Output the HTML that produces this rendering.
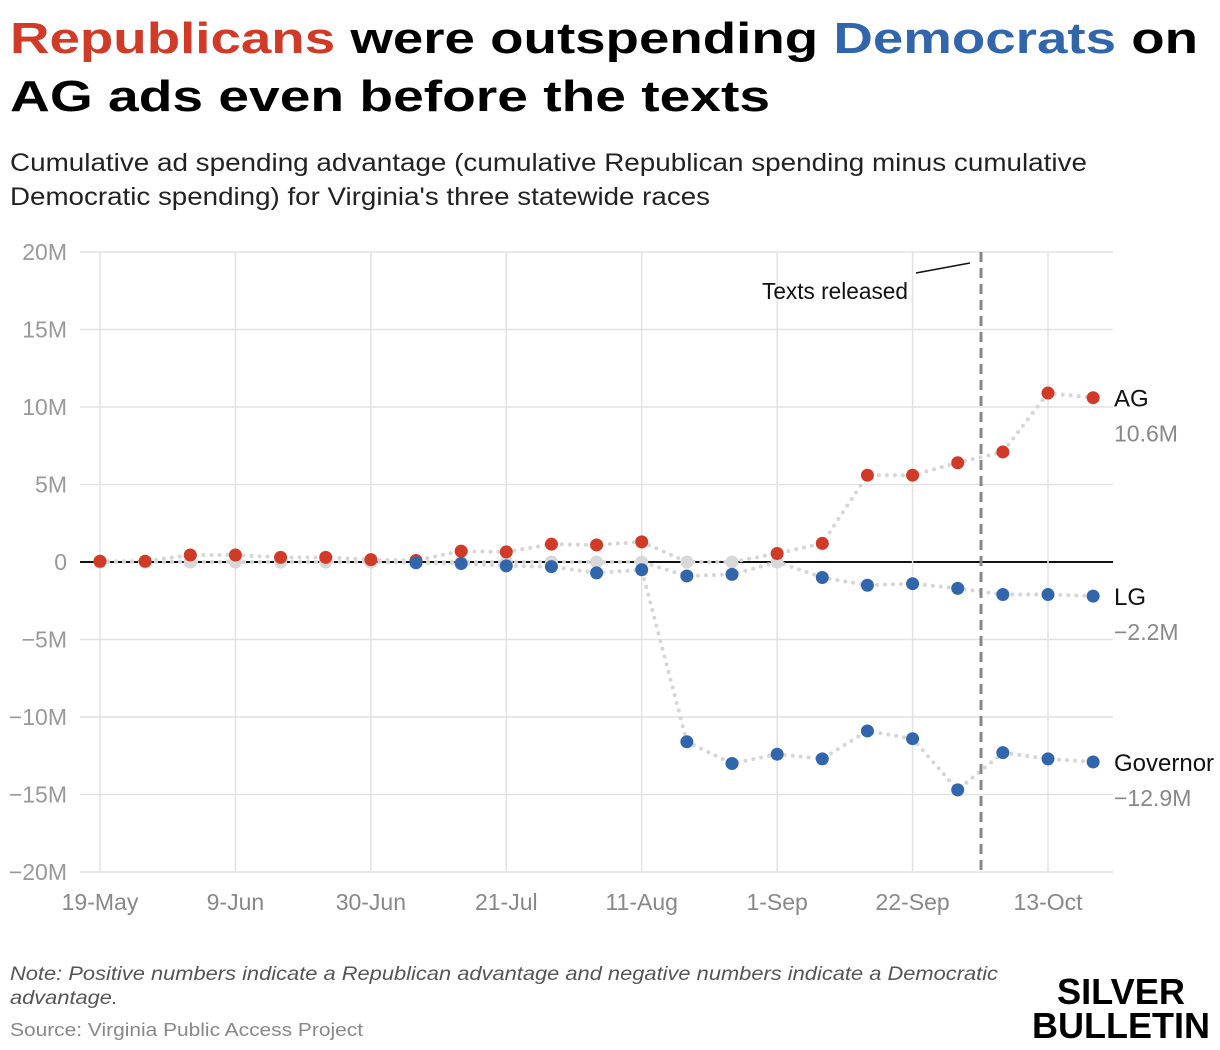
<!DOCTYPE html>
<html><head><meta charset="utf-8">
<style>
body{margin:0;background:#fff;width:1220px;height:1050px;overflow:hidden}
svg{display:block}
.t{font-family:"Liberation Sans",Arial,sans-serif}
.n{font-family:"Liberation Sans Narrow","Liberation Sans",sans-serif}
</style></head><body>
<svg id="c" width="1220" height="1050" xmlns="http://www.w3.org/2000/svg">
<text class="t" x="10" y="53" font-size="44" font-weight="900" textLength="1188" lengthAdjust="spacingAndGlyphs"><tspan fill="#d03a27">Republicans</tspan> were outspending <tspan fill="#3166ad">Democrats</tspan> on</text>
<text class="t" x="10" y="111" font-size="44" font-weight="900" textLength="760" lengthAdjust="spacingAndGlyphs">AG ads even before the texts</text>
<text class="t" x="10" y="171" font-size="25" fill="#222" textLength="1077" lengthAdjust="spacingAndGlyphs">Cumulative ad spending advantage (cumulative Republican spending minus cumulative</text>
<text class="t" x="10" y="205" font-size="25" fill="#222" textLength="700" lengthAdjust="spacingAndGlyphs">Democratic spending) for Virginia's three statewide races</text>
<g id="grid"></g>
<g id="marks"></g>
<g>
<line x1="981" y1="252" x2="981" y2="872" stroke="#888" stroke-width="3" stroke-dasharray="10,6"/>
<line x1="916" y1="273" x2="970" y2="263" stroke="#111" stroke-width="1.5"/>
<text class="n" x="908" y="299" font-size="23" text-anchor="end" fill="#111" textLength="146" lengthAdjust="spacingAndGlyphs">Texts released</text>
</g>
<text class="t" x="10" y="980" font-size="19" font-style="italic" fill="#555" textLength="988" lengthAdjust="spacingAndGlyphs">Note: Positive numbers indicate a Republican advantage and negative numbers indicate a Democratic</text>
<text class="t" x="10" y="1004" font-size="19" font-style="italic" fill="#555" textLength="108" lengthAdjust="spacingAndGlyphs">advantage.</text>
<text class="t" x="10" y="1036" font-size="18" fill="#888" textLength="353" lengthAdjust="spacingAndGlyphs">Source: Virginia Public Access Project</text>
<text class="t" x="1121" y="1004" font-size="36" font-weight="900" text-anchor="middle" textLength="128" lengthAdjust="spacingAndGlyphs">SILVER</text>
<text class="t" x="1121" y="1038" font-size="36" font-weight="900" text-anchor="middle" textLength="178" lengthAdjust="spacingAndGlyphs">BULLETIN</text>
</svg>
<script>
const weeks = ["19-May","26-May","2-Jun","9-Jun","16-Jun","23-Jun","30-Jun","7-Jul","14-Jul","21-Jul","28-Jul","4-Aug","11-Aug","18-Aug","25-Aug","1-Sep","8-Sep","15-Sep","22-Sep","29-Sep","6-Oct","13-Oct","20-Oct"];
const xTickLabels = ["19-May","9-Jun","30-Jun","21-Jul","11-Aug","1-Sep","22-Sep","13-Oct"];
const yTicks = [20,15,10,5,0,-5,-10,-15,-20];
const agValues = [0.05,0.05,0.45,0.45,0.3,0.3,0.15,0.1,0.7,0.65,1.15,1.1,1.3,0,0,0.55,1.2,5.6,5.6,6.4,7.1,10.9,10.6];
const lgValues = [0,0,0,0,0,0,0,0,0,0,0,0,0,-0.9,-0.8,0,-1.0,-1.5,-1.4,-1.7,-2.1,-2.1,-2.2];
const govValues = [0,0,0,0,0,0,0,-0.05,-0.1,-0.25,-0.3,-0.7,-0.5,-11.6,-13.0,-12.4,-12.7,-10.9,-11.4,-14.7,-12.3,-12.7,-12.9];
const seriesNames = ["AG","LG","Governor"];
const endLabels = ["10.6M","\u22122.2M","\u221212.9M"];

const NS="http://www.w3.org/2000/svg";
const X0=100, DX=(1048-100)/21, Y0=562, PY=15.5;
const xs=i=>X0+i*DX, ys=v=>Y0-v*PY;
function mk(tag,attrs,parent,text){const e=document.createElementNS(NS,tag);for(const k in attrs)e.setAttribute(k,attrs[k]);if(text!==undefined)e.textContent=text;parent.appendChild(e);return e;}
const grid=document.getElementById('grid'), marks=document.getElementById('marks');
yTicks.forEach(v=>{
  const l=mk('line',{x1:80,x2:1113,y1:ys(v),y2:ys(v),stroke:v===0?'#111':'#e2e2e2','stroke-width':v===0?2:1.5},grid);
  
  
  const t=mk('text',{x:67,y:ys(v)+8,'font-size':23,'text-anchor':'end',fill:'#999',class:'n'},grid,(v<0?'\u2212':'')+Math.abs(v)+(v===0?'':'M'));
  
  
});
xTickLabels.forEach(lab=>{
  const i=weeks.indexOf(lab);
  const l=mk('line',{x1:xs(i),x2:xs(i),y1:252,y2:872,stroke:'#e2e2e2','stroke-width':1.5},grid);
  
  
  const t=mk('text',{x:xs(i),y:910,'font-size':23,'text-anchor':'middle',fill:'#888',class:'n'},grid,lab);
  
  
});
const all=[agValues,lgValues,govValues];
all.forEach(vals=>{
  const p=mk('polyline',{points:vals.map((v,i)=>xs(i)+','+ys(v)).join(' '),fill:'none',stroke:'#d6d6d6','stroke-width':4,'stroke-dasharray':'0,8','stroke-linecap':'round'},marks);
  
  
});
function col(v){return v>0.02?'#d03a27':(v<-0.02?'#3166ad':'#d8d8d8');}
[0,1].forEach(pass=>{
  all.forEach((vals,s)=>{
    vals.forEach((v,i)=>{
      const c=col(v); const isGrey=c==='#d8d8d8';
      if((pass===0)!==isGrey)return;
      const d=mk('circle',{cx:xs(i),cy:ys(v),r:6.5,fill:c},marks);
      
      
    });
  });
});
all.forEach((vals,s)=>{
  const v=vals[vals.length-1];
  const t=mk('text',{x:1114,y:ys(v)+9,'font-size':24,fill:'#111',class:'n'},marks,seriesNames[s]);
  
  
  const t2=mk('text',{x:1114,y:ys(v)+44,'font-size':23,fill:'#888',class:'n'},marks,endLabels[s]);
  
  
});
</script>
</body></html>
